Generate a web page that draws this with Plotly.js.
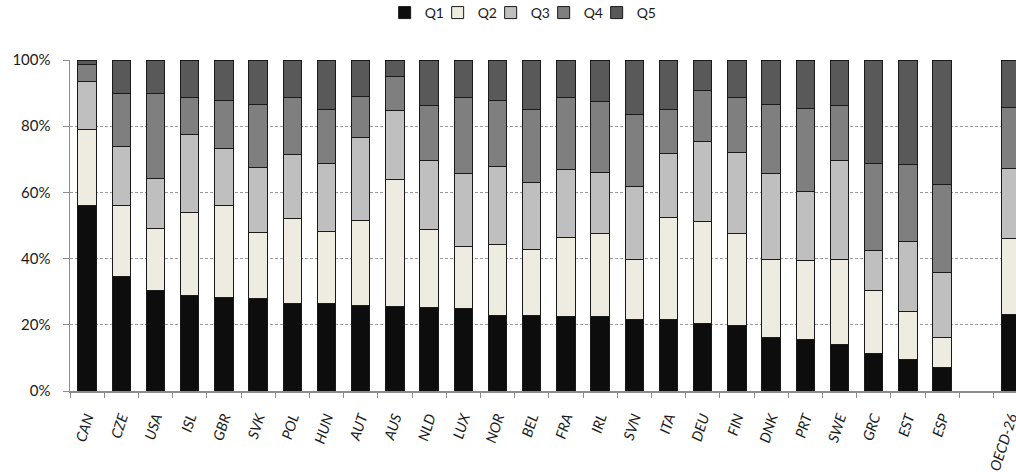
<!DOCTYPE html>
<html>
<head>
<meta charset="utf-8">
<script src="https://cdn.plot.ly/plotly-3.0.1.min.js"></script>
<style>html,body{margin:0;padding:0;background:#fff;}#chart{width:1016px;height:472px;}</style>
</head>
<body>
<div id="chart"></div>
<script>
var countries = ['CAN','CZE','USA','ISL','GBR','SVK','POL','HUN','AUT','AUS','NLD','LUX','NOR','BEL','FRA','IRL','SVN','ITA','DEU','FIN','DNK','PRT','SWE','GRC','EST','ESP','OECD-26'];
var categoryOrder = ['CAN','CZE','USA','ISL','GBR','SVK','POL','HUN','AUT','AUS','NLD','LUX','NOR','BEL','FRA','IRL','SVN','ITA','DEU','FIN','DNK','PRT','SWE','GRC','EST','ESP',' ','OECD-26'];
var seriesNames = ['Q1','Q2','Q3','Q4','Q5'];
var q1 = [56.1,34.7,30.5,28.8,28.4,28.0,26.4,26.4,25.9,25.5,25.3,24.9,22.8,22.8,22.5,22.5,21.6,21.6,20.4,19.8,16.3,15.5,13.9,11.2,9.4,7.1,23.2];
var q2 = [23.0,21.3,18.6,25.1,27.6,19.9,25.6,21.9,25.6,38.3,23.4,18.7,21.6,20.0,23.8,25.2,18.2,30.9,30.9,27.8,23.4,23.9,25.7,19.2,14.6,9.0,23.0];
var q3 = [14.5,18.0,15.0,23.6,17.2,19.7,19.6,20.5,25.2,20.9,21.0,22.1,23.3,20.2,20.5,18.4,22.0,19.2,24.1,24.5,26.0,20.9,30.1,12.0,21.1,19.8,21.1];
var q4 = [4.9,15.8,25.7,11.1,14.7,19.0,17.0,16.2,12.3,10.3,16.5,22.9,20.1,22.0,21.8,21.3,21.8,13.3,15.3,16.5,20.9,25.2,16.5,26.4,23.3,26.6,18.5];
var q5 = [1.5,10.2,10.2,11.4,12.1,13.4,11.4,15.0,11.0,5.0,13.8,11.4,12.2,15.0,11.4,12.6,16.4,15.0,9.3,11.4,13.4,14.5,13.8,31.2,31.6,37.5,14.2];
var colors = ['#0d0d0d','#eeece1','#bfbfbf','#7f7f7f','#595959'];

var values = [q1,q2,q3,q4,q5];
var traces = values.map(function(v,i){
  return {
    type:'bar', name:seriesNames[i], x:countries, y:v,
    marker:{color:colors[i], line:{color:'#1a1a1a', width:1}},
    hoverinfo:'x+y+name'
  };
});

var layout = {
  width:1016, height:472,
  margin:{l:70, r:0, t:60, b:80.5, pad:0},
  barmode:'stack',
  bargap:0.465,
  paper_bgcolor:'#fff', plot_bgcolor:'#fff',
  font:{family:'Lato, "Open Sans", sans-serif', size:15, color:'#1a1a1a'},
  showlegend:true,
  legend:{orientation:'h', xref:'container', yref:'container', x:0.509, xanchor:'center', y:0.9725, yanchor:'middle',
          font:{size:14}, traceorder:'normal', itemwidth:30, entrywidth:8, entrywidthmode:'pixels'},
  xaxis:{
    type:'category', categoryorder:'array', categoryarray:categoryOrder,
    range:[-0.5, 27.16],
    showline:true, linecolor:'#8c8c8c', linewidth:1.5,
    ticks:'outside', tickson:'boundaries', ticklen:5, tickcolor:'#8c8c8c',
    tickangle:-72, tickfont:{size:14.5, style:'italic'}, ticklabelstandoff:11,
    showgrid:false, zeroline:false, fixedrange:true
  },
  yaxis:{
    range:[0,100], dtick:20, ticksuffix:'%',
    showline:true, linecolor:'#8c8c8c', linewidth:1.5,
    ticks:'outside', ticklen:6, tickcolor:'#8c8c8c', ticklabelstandoff:9,
    showgrid:true, gridcolor:'#9a9a9a', gridwidth:1, griddash:'3px,2px',
    zeroline:false, tickfont:{size:15}, fixedrange:true
  }
};
Plotly.newPlot('chart', traces, layout, {displayModeBar:false, staticPlot:true}).then(function(gd){
  var sb = gd.querySelector('.legend .scrollbox');
  if (sb) { sb.removeAttribute('clip-path'); sb.style.clipPath = 'none'; }
});
</script>
</body>
</html>
